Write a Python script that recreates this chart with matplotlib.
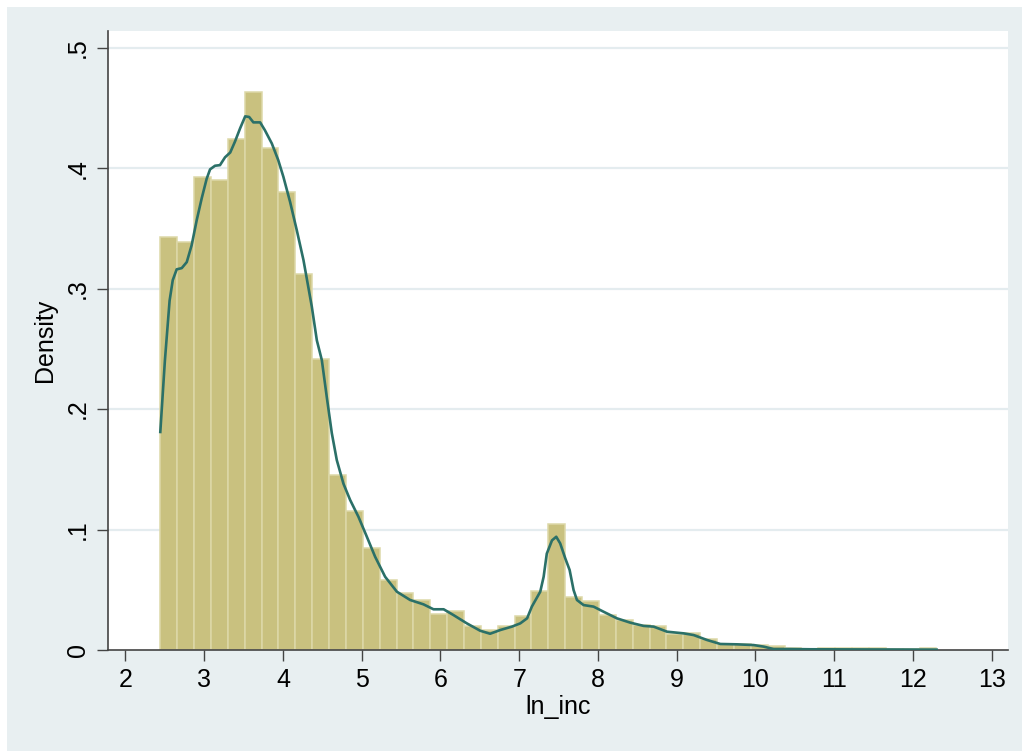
import numpy as np
import matplotlib.pyplot as plt
from matplotlib.patches import Rectangle

# histogram of ln_inc (46 bins), densities
bin_lo, bin_hi = 2.442, 12.298
density = [0.343, 0.339, 0.393, 0.390, 0.424, 0.463, 0.417, 0.380, 0.312, 0.2415,
           0.145, 0.115, 0.0844, 0.058, 0.047, 0.0415, 0.030, 0.032, 0.020, 0.017,
           0.020, 0.028, 0.049, 0.1046, 0.044, 0.041, 0.029, 0.025, 0.021, 0.020,
           0.013, 0.014, 0.009, 0.005, 0.005, 0.004, 0.003, 0.0015, 0.001, 0.002,
           0.0015, 0.0015, 0.0015, 0.001, 0.001, 0.002]

# kernel density line
kde_x = [2.442, 2.50, 2.56, 2.60, 2.65, 2.714, 2.778, 2.84, 2.905, 2.968, 3.03, 3.074,
         3.137, 3.20, 3.264, 3.33, 3.39, 3.455, 3.52, 3.57, 3.624, 3.71, 3.77, 3.858,
         3.94, 4.005, 4.09, 4.175, 4.26, 4.366, 4.43, 4.493, 4.556, 4.62, 4.683, 4.768,
         4.853, 4.958, 5.065, 5.17, 5.297, 5.446, 5.615, 5.784, 5.911, 6.04, 6.165,
         6.335, 6.504, 6.63, 6.76, 6.907, 7.013, 7.10, 7.16, 7.267, 7.31, 7.35, 7.416,
         7.47, 7.52, 7.585, 7.64, 7.69, 7.733, 7.817, 7.944, 8.07, 8.24, 8.41, 8.58,
         8.707, 8.877, 9.09, 9.215, 9.385, 9.554, 9.766, 9.977, 10.104, 10.23, 10.44,
         10.70, 11.2, 11.8, 12.30]
kde_y = [0.181, 0.240, 0.290, 0.307, 0.316, 0.317, 0.322, 0.336, 0.357, 0.375, 0.391, 0.399,
         0.402, 0.4025, 0.409, 0.413, 0.422, 0.433, 0.443, 0.4425, 0.438, 0.438, 0.4315, 0.4205,
         0.4066, 0.3928, 0.372, 0.3485, 0.3237, 0.285, 0.257, 0.2407, 0.210, 0.180, 0.1577, 0.138,
         0.1245, 0.1106, 0.094, 0.0774, 0.0608, 0.0484, 0.0415, 0.0379, 0.0338, 0.0338, 0.029,
         0.0221, 0.016, 0.0135, 0.0166, 0.0194, 0.0221, 0.0263, 0.036, 0.0484, 0.0608, 0.080, 0.091,
         0.094, 0.0885, 0.076, 0.0664, 0.0498, 0.0415, 0.0373, 0.036, 0.0318, 0.0263, 0.0227, 0.020,
         0.0194, 0.0152, 0.0138, 0.0124, 0.0083, 0.005, 0.0047, 0.0041, 0.0028, 0.0008, 0.0008,
         0.0006, 0.0005, 0.0004, 0.0003]

xticks = list(range(2, 14))
yticks = [0, 0.1, 0.2, 0.3, 0.4, 0.5]
ylabels = ['0', '.1', '.2', '.3', '.4', '.5']

plt.rcParams['font.family'] = ['Liberation Sans', 'DejaVu Sans']

fig = plt.figure(figsize=(10.22, 7.51), dpi=100)
fig.patch.set_facecolor('white')
fig.patches.append(Rectangle((7 / 1022, 0), 1, 1 - 7 / 751, transform=fig.transFigure,
                             facecolor='#E8EFF1', edgecolor='none', zorder=-5))

ax = fig.add_axes([107.7 / 1022, 1 - 650 / 751, 900 / 1022, 619.3 / 751])
ax.set_facecolor('white')

for t in yticks[1:]:
    ax.axhline(t, color='#E4ECEF', lw=1.6, zorder=0)

edges = np.linspace(bin_lo, bin_hi, len(density) + 1)
ax.bar(edges[:-1], density, width=np.diff(edges), align='edge',
       color='#C9C17F', edgecolor='#DDD8A8', linewidth=1.1, zorder=2)
ax.plot(kde_x, kde_y, color='#2B7068', lw=1.9, zorder=3)

ax.set_xlim(1.774, 13.203)
ax.set_ylim(0, 0.5141)
ax.set_xticks(xticks)
ax.set_yticks(yticks)
ax.set_yticklabels(ylabels, rotation=90, va='center')
ax.tick_params(axis='both', length=8, width=1, color='#444444', labelsize=18)
ax.tick_params(axis='x', pad=5)
ax.tick_params(axis='y', pad=5)

for s in ['top', 'right']:
    ax.spines[s].set_visible(False)
for s in ['left', 'bottom']:
    ax.spines[s].set_color('#444444')
    ax.spines[s].set_linewidth(1.2)

ax.set_xlabel('ln_inc', fontsize=18, labelpad=2)
ax.set_ylabel('Density', fontsize=18, labelpad=6)

fig.savefig('out.png', dpi=100, facecolor=fig.get_facecolor())
